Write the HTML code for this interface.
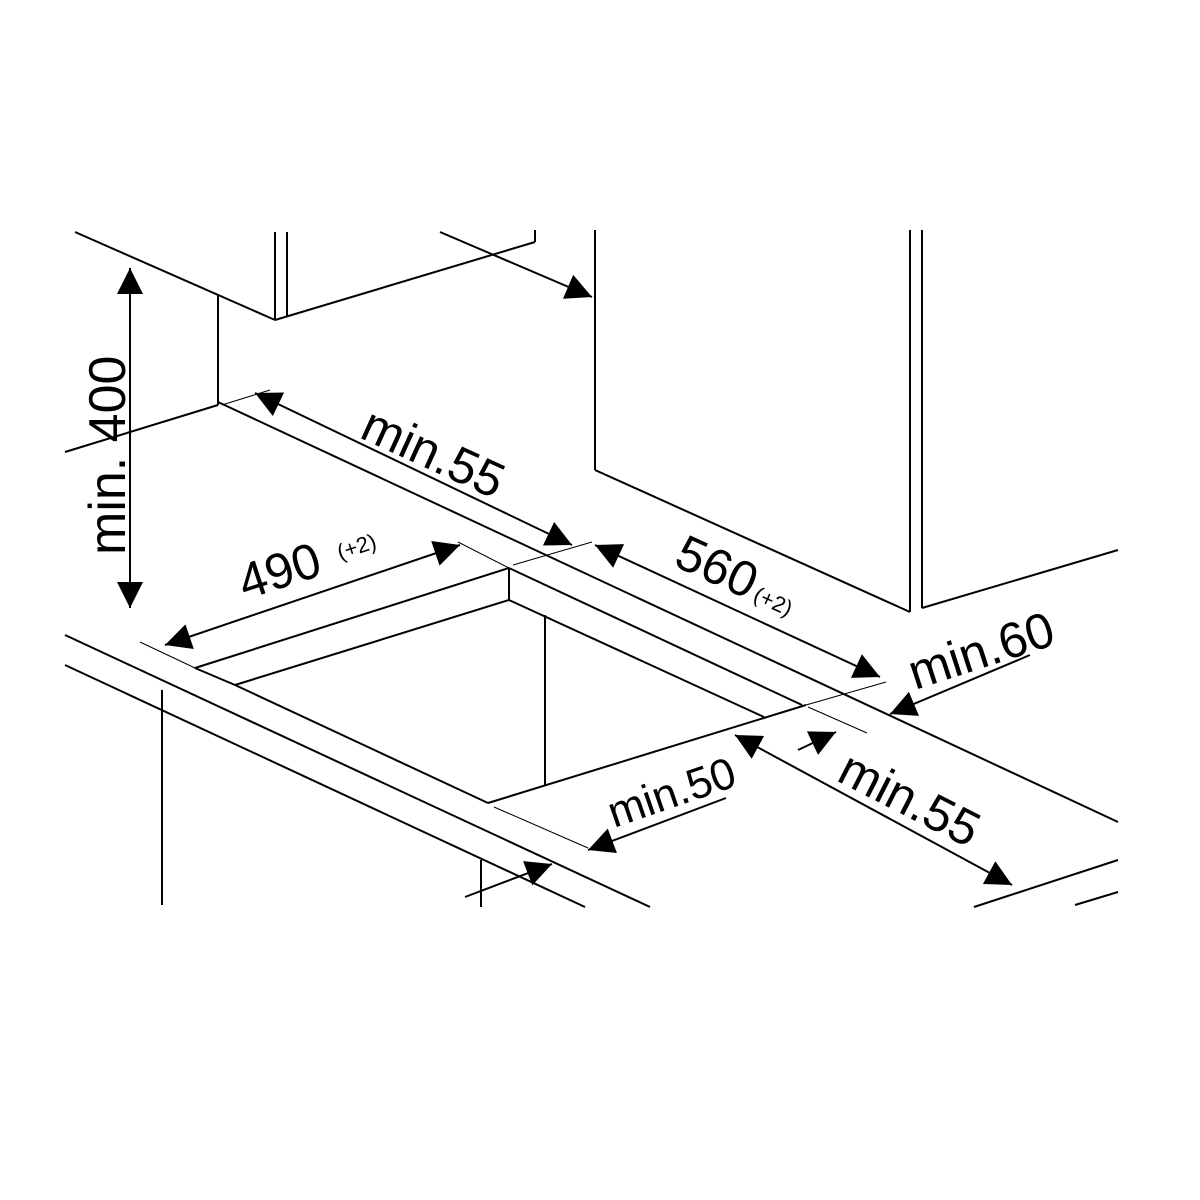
<!DOCTYPE html>
<html><head><meta charset="utf-8"><style>html,body{margin:0;padding:0;background:#fff}svg{display:block}</style></head>
<body>
<svg width="1200" height="1200" viewBox="0 0 1200 1200" xmlns="http://www.w3.org/2000/svg">
<defs>
<marker id="b" viewBox="0 0 10 10" refX="10" refY="5" markerWidth="30" markerHeight="26" markerUnits="userSpaceOnUse" orient="auto-start-reverse"><path d="M0,0 L10,5 L0,10 z" fill="#000"/></marker>
</defs>
<g stroke="#000" stroke-width="2" fill="none">
<!-- upper cabinets -->
<line x1="75" y1="232" x2="275" y2="320"/>
<line x1="275" y1="232" x2="275" y2="320"/>
<line x1="287" y1="232" x2="287" y2="316"/>
<line x1="275" y1="320" x2="535" y2="242"/>
<line x1="535" y1="230" x2="535" y2="242"/>
<line x1="595" y1="230" x2="595" y2="470"/>
<line x1="595" y1="470" x2="910" y2="612"/>
<line x1="910" y1="230" x2="910" y2="612"/>
<line x1="922" y1="230" x2="922" y2="608"/>
<line x1="922" y1="608" x2="1118" y2="550"/>
<!-- wall -->
<line x1="218" y1="295" x2="218" y2="405"/>
<line x1="65" y1="452" x2="218" y2="405"/>
<line x1="218" y1="402" x2="1118" y2="822"/>
<!-- countertop front -->
<line x1="65" y1="635" x2="650" y2="907"/>
<line x1="65" y1="665" x2="585" y2="907"/>
<line x1="974" y1="907" x2="1118" y2="860"/>
<line x1="1075" y1="905" x2="1118" y2="892"/>
<line x1="162" y1="690" x2="162" y2="905"/>
<line x1="481" y1="860" x2="481" y2="907"/>
<!-- cutout -->
<line x1="195" y1="668" x2="509" y2="568"/>
<line x1="509" y1="568" x2="802" y2="705"/>
<line x1="235" y1="685" x2="509" y2="600"/>
<line x1="509" y1="568" x2="509" y2="600"/>
<line x1="509" y1="600" x2="764" y2="717"/>
<line x1="195" y1="668" x2="235" y2="685"/>
<line x1="235" y1="685" x2="488" y2="803"/>
<line x1="488" y1="803" x2="806" y2="705"/>
<line x1="545" y1="615" x2="545" y2="785"/>
</g>
<g stroke="#000" stroke-width="1" fill="none">
<line x1="222" y1="405" x2="270" y2="390"/>
<line x1="513" y1="565" x2="592" y2="542"/>
<line x1="140" y1="642" x2="195" y2="668"/>
<line x1="458" y1="542" x2="509" y2="568"/>
<line x1="806" y1="705" x2="886" y2="682"/>
<line x1="808" y1="707" x2="867" y2="733"/>
<line x1="494" y1="807" x2="588" y2="848"/>
</g>
<g stroke="#000" stroke-width="2" fill="none">
<line x1="130" y1="268" x2="130" y2="608" marker-start="url(#b)" marker-end="url(#b)"/>
<line x1="255" y1="393" x2="572" y2="545" marker-start="url(#b)" marker-end="url(#b)"/>
<line x1="165" y1="645" x2="460" y2="545" marker-start="url(#b)" marker-end="url(#b)"/>
<line x1="595" y1="545" x2="880" y2="677" marker-start="url(#b)" marker-end="url(#b)"/>
<line x1="440" y1="232" x2="592" y2="297" marker-end="url(#b)"/>
<line x1="1030" y1="655" x2="890" y2="714" marker-end="url(#b)"/>
<line x1="726" y1="798" x2="588" y2="850" marker-end="url(#b)"/>
<line x1="798" y1="750" x2="836" y2="732" marker-end="url(#b)"/>
<line x1="735" y1="735" x2="1012" y2="885" marker-start="url(#b)" marker-end="url(#b)"/>
<line x1="465" y1="897" x2="552" y2="864" marker-end="url(#b)"/>
</g>
<g font-family="Liberation Sans, sans-serif" fill="#000">
<text x="0" y="0" font-size="52" transform="translate(125,555) rotate(-90)">min. 400</text>
<text x="0" y="0" font-size="50" transform="translate(358,437) rotate(24.5)">min.55</text>
<text x="0" y="0" font-size="50" transform="translate(245,600) rotate(-18)">490</text>
<text x="0" y="0" font-size="22" transform="translate(340,560) rotate(-18)">(+2)</text>
<text x="0" y="0" font-size="50" transform="translate(672,565) rotate(24.5)">560</text>
<text x="0" y="0" font-size="22" transform="translate(752,600) rotate(24.5)">(+2)</text>
<text x="0" y="0" font-size="50" transform="translate(915,690) rotate(-18)">min.60</text>
<text x="0" y="0" font-size="44" transform="translate(614,828) rotate(-19)">min.50</text>
<text x="0" y="0" font-size="50" transform="translate(835,780) rotate(27)">min.55</text>
</g>
</svg>
</body></html>
